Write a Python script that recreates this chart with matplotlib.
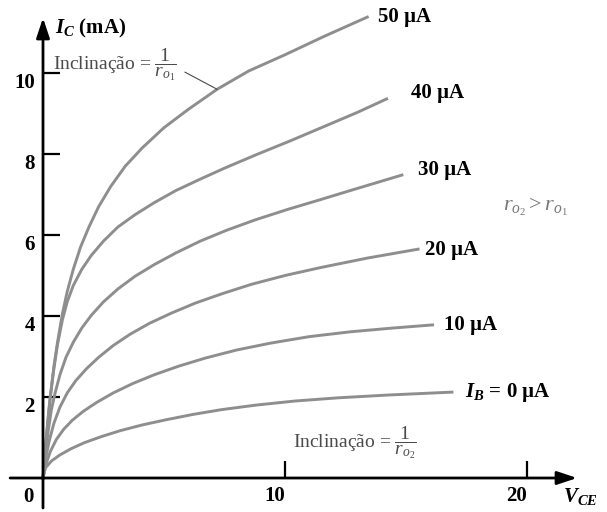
import matplotlib
matplotlib.use("Agg")
import matplotlib.pyplot as plt

plt.rcParams["font.family"] = ["Liberation Serif", "DejaVu Serif"]
plt.rcParams["mathtext.fontset"] = "custom"
plt.rcParams["mathtext.rm"] = "Liberation Serif"
plt.rcParams["mathtext.it"] = "Liberation Serif:italic"
plt.rcParams["mathtext.bf"] = "Liberation Serif:italic:bold"

# curvas I_C x V_CE (V, mA)
vce_50 = [0, 0.1, 0.2, 0.3, 0.45, 0.6, 0.8, 1.0, 1.25, 1.55, 1.9, 2.3, 2.8, 3.4, 4.1, 5.0, 6.0, 7.2, 8.5, 10.0, 11.6, 13.4]
ic_50 = [0, 0.75, 1.4, 2.0, 2.75, 3.35, 4.05, 4.6, 5.15, 5.7, 6.2, 6.7, 7.2, 7.7, 8.15, 8.65, 9.1, 9.6, 10.05, 10.45, 10.9, 11.38]
vce_40 = [0, 0.1, 0.2, 0.3, 0.45, 0.6, 0.8, 1.0, 1.25, 1.6, 2.0, 2.5, 3.1, 3.8, 4.6, 5.5, 6.5, 7.5, 8.8, 10.2, 11.7, 13.0, 14.2]
ic_40 = [0, 0.75, 1.4, 2.0, 2.7, 3.3, 3.9, 4.35, 4.75, 5.15, 5.5, 5.85, 6.2, 6.5, 6.8, 7.1, 7.38, 7.65, 7.98, 8.32, 8.7, 9.03, 9.36]
vce_30 = [0, 0.1, 0.2, 0.35, 0.5, 0.7, 0.95, 1.25, 1.6, 2.0, 2.5, 3.1, 3.8, 4.6, 5.5, 6.5, 7.6, 8.8, 10.1, 11.5, 13.1, 14.83]
ic_30 = [0, 0.6, 1.1, 1.7, 2.1, 2.55, 2.98, 3.35, 3.7, 4.02, 4.35, 4.67, 4.98, 5.27, 5.56, 5.85, 6.12, 6.38, 6.63, 6.88, 7.17, 7.48]
vce_20 = [0, 0.1, 0.25, 0.45, 0.7, 1.0, 1.35, 1.8, 2.3, 2.9, 3.6, 4.4, 5.3, 6.3, 7.4, 8.6, 10.0, 11.5, 13.4, 15.5]
ic_20 = [0, 0.45, 0.9, 1.35, 1.75, 2.1, 2.4, 2.7, 2.98, 3.27, 3.55, 3.82, 4.07, 4.32, 4.55, 4.78, 5.0, 5.2, 5.43, 5.65]
vce_10 = [0, 0.1, 0.3, 0.55, 0.85, 1.2, 1.65, 2.2, 2.9, 3.7, 4.6, 5.6, 6.7, 8.0, 9.4, 11.0, 12.7, 14.4, 16.1]
ic_10 = [0, 0.3, 0.65, 0.95, 1.2, 1.42, 1.64, 1.86, 2.1, 2.33, 2.55, 2.76, 2.96, 3.16, 3.33, 3.49, 3.61, 3.7, 3.78]
vce_0 = [0, 0.1, 0.35, 0.7, 1.15, 1.7, 2.4, 3.2, 4.1, 5.1, 6.2, 7.4, 8.8, 10.4, 12.2, 14.3, 16.9]
ic_0 = [0, 0.25, 0.42, 0.57, 0.72, 0.87, 1.02, 1.17, 1.31, 1.44, 1.57, 1.69, 1.8, 1.9, 1.98, 2.05, 2.12]

curvas = [(vce_50, ic_50), (vce_40, ic_40), (vce_30, ic_30),
          (vce_20, ic_20), (vce_10, ic_10), (vce_0, ic_0)]
rotulos = ["50 µA", "40 µA", "30 µA", "20 µA", "10 µA", r"$\mathbf{I_B}$ = 0 µA"]
pos_rotulos = [(13.85, 11.38), (15.2, 9.5), (15.5, 7.6), (15.8, 5.63), (16.55, 3.78), (17.45, 2.1)]

xticks = [10, 20]
yticks = [2, 4, 6, 8, 10]

fig = plt.figure(figsize=(6.07, 5.12), dpi=100)
ax = fig.add_axes([0, 0, 1, 1])
ax.set_xlim(-43 / 24.2, (607 - 43) / 24.2)
ax.set_ylim(-34 / 40.5, 478 / 40.5)

for v, i in curvas:
    ax.plot(v, i, color="#8e8e8e", lw=2.1, solid_joinstyle="round")

for txt, (x, y) in zip(rotulos, pos_rotulos):
    ax.text(x, y, txt, fontsize=15, fontweight="bold", ha="left", va="center")

# eixos com setas
seta = dict(arrowstyle="-|>,head_length=0.6,head_width=0.2", lw=2, color="k",
            shrinkA=0, shrinkB=0, mutation_scale=20)
ax.annotate("", xy=(22.07, 0), xytext=(-1.36, 0), arrowprops=seta)
ax.annotate("", xy=(0, 11.36), xytext=(0, -0.74), arrowprops=seta)

for s in ax.spines.values():
    s.set_visible(False)
ax.spines["left"].set_position(("data", 0))
ax.spines["bottom"].set_position(("data", 0))
ax.set_xticks(xticks)
ax.set_yticks(yticks)
ax.set_xticklabels([str(t) for t in xticks], ha="right")
ax.set_yticklabels([str(t) for t in yticks], va="top")
ax.tick_params(direction="in", length=12, width=1.6, labelsize=15, pad=6)
for lab in ax.get_xticklabels() + ax.get_yticklabels():
    lab.set_fontweight("bold")
ax.text(-0.4, -0.22, "0", fontsize=15, fontweight="bold", ha="right", va="top")

ax.text(0.5, 11.1, r"$\mathbf{I_C}$ (mA)", fontsize=15, fontweight="bold", va="center")
ax.text(21.5, -0.45, r"$\mathbf{V_{CE}}$", fontsize=15, va="center")

cinza = "#4a4a4a"
ax.text(0.42, 10.2, r"Inclinação = $\dfrac{1}{r_{o_1}}$", fontsize=14, color=cinza, va="center")
ax.plot([5.87, 7.19], [10.02, 9.6], color=cinza, lw=0.8)
ax.text(19.0, 6.7, r"$r_{o_2} > r_{o_1}$", fontsize=16, color="#777777", va="center")
ax.text(10.35, 0.88, r"Inclinação = $\dfrac{1}{r_{o_2}}$", fontsize=14, color=cinza, va="center")

fig.savefig("out.png", dpi=100)
